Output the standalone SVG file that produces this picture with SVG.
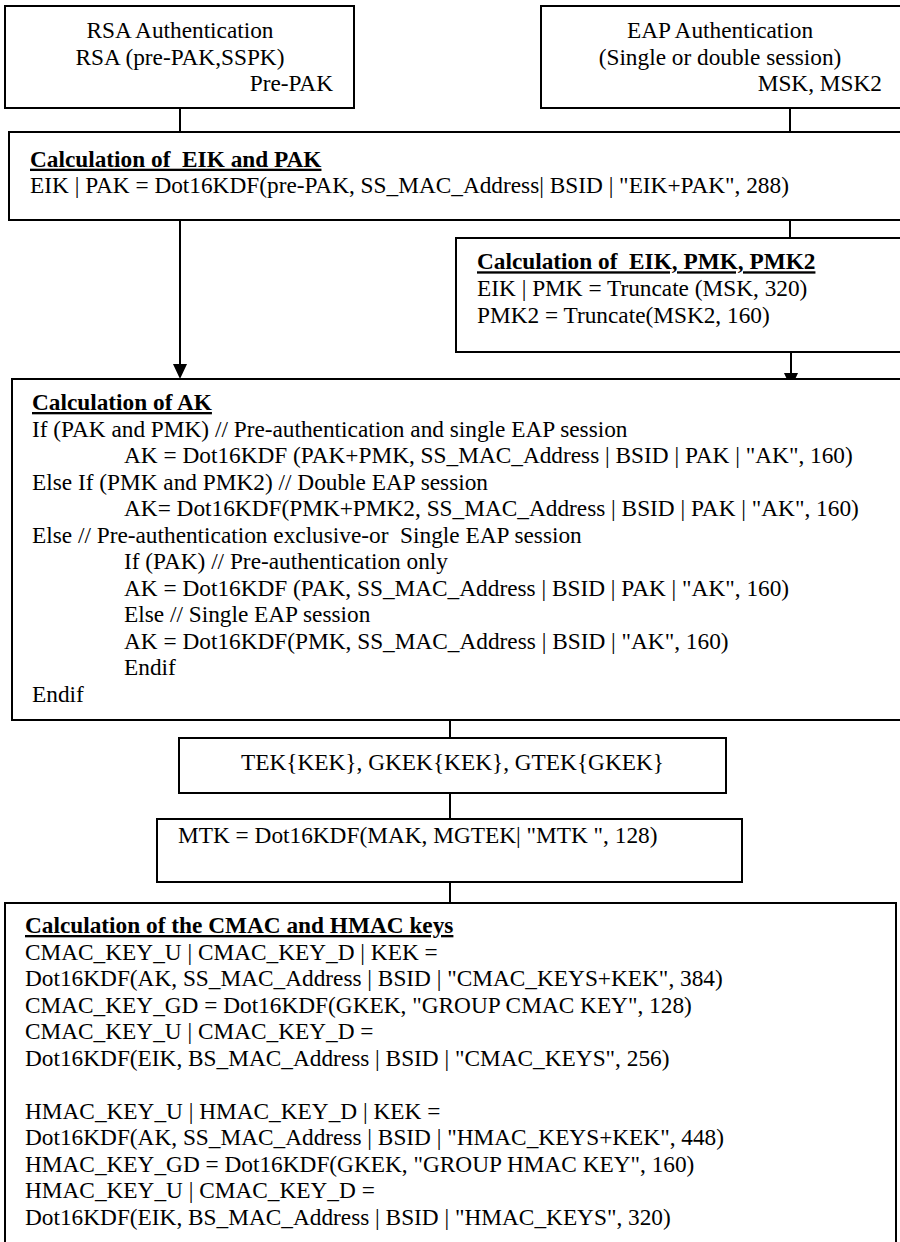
<svg xmlns="http://www.w3.org/2000/svg" width="900" height="1242" viewBox="0 0 900 1242">
<style>
text{font-family:"Liberation Serif","Times New Roman",serif;font-size:23.3px;fill:#000;white-space:pre}
.t{font-weight:bold;text-decoration:underline}
.c{text-anchor:middle}
.r{text-anchor:end}
.box{fill:#fff;stroke:#000;stroke-width:2}
.conn{stroke:#000;stroke-width:2;fill:none}
.head{fill:#000}
</style>
<rect width="900" height="1242" fill="#fff"/>
<g id="connectors">
<line class="conn" x1="180" y1="108" x2="180" y2="132"/>
<line class="conn" x1="790" y1="108" x2="790" y2="132"/>
<line class="conn" x1="790" y1="220" x2="790" y2="238"/>
<path class="conn" d="M180,220 L180,364"/>
<polygon class="head" points="173,364 187,364 180,379"/>
<path class="conn" d="M791,352 L791,373"/>
<polygon class="head" points="784,373 798,373 791,388"/>
<line class="conn" x1="450" y1="720" x2="450" y2="738"/>
<line class="conn" x1="450" y1="793" x2="450" y2="819"/>
<line class="conn" x1="450" y1="882" x2="450" y2="903"/>
</g>
<g id="rsa">
<rect class="box" x="5" y="6" width="349" height="102"/>
<text class="c" x="180" y="38.3">RSA Authentication</text>
<text class="c" x="180" y="64.8">RSA (pre-PAK,SSPK)</text>
<text class="r" x="333" y="91.3">Pre-PAK</text>
</g>
<g id="eap">
<rect class="box" x="541" y="6" width="369" height="102"/>
<text class="c" x="720" y="38.3">EAP Authentication</text>
<text class="c" x="720" y="64.8">(Single or double session)</text>
<text class="r" x="882" y="91.3">MSK, MSK2</text>
</g>
<g id="eik-pak">
<rect class="box" x="9" y="132" width="901" height="88"/>
<text class="t" x="30" y="166.7">Calculation of  EIK and PAK</text>
<text x="30" y="193.2">EIK | PAK = Dot16KDF(pre-PAK, SS_MAC_Address| BSID | "EIK+PAK", 288)</text>
</g>
<g id="eik-pmk">
<rect class="box" x="456" y="238" width="454" height="114"/>
<text class="t" x="477" y="269.3">Calculation of  EIK, PMK, PMK2</text>
<text x="477" y="296">EIK | PMK = Truncate (MSK, 320)</text>
<text x="477" y="322.6">PMK2 = Truncate(MSK2, 160)</text>
</g>
<g id="ak">
<rect class="box" x="12" y="379" width="898" height="341"/>
<text class="t" x="32" y="410">Calculation of AK</text>
<text x="32" y="436.5">If (PAK and PMK) // Pre-authentication and single EAP session</text>
<text x="124" y="463">AK = Dot16KDF (PAK+PMK, SS_MAC_Address | BSID | PAK | "AK", 160)</text>
<text x="32" y="489.5">Else If (PMK and PMK2) // Double EAP session</text>
<text x="124" y="516">AK= Dot16KDF(PMK+PMK2, SS_MAC_Address | BSID | PAK | "AK", 160)</text>
<text x="32" y="542.5">Else // Pre-authentication exclusive-or  Single EAP session</text>
<text x="124" y="569">If (PAK) // Pre-authentication only</text>
<text x="124" y="595.5">AK = Dot16KDF (PAK, SS_MAC_Address | BSID | PAK | "AK", 160)</text>
<text x="124" y="622">Else // Single EAP session</text>
<text x="124" y="648.5">AK = Dot16KDF(PMK, SS_MAC_Address | BSID | "AK", 160)</text>
<text x="124" y="675">Endif</text>
<text x="32" y="701.5">Endif</text>
</g>
<g id="tek">
<rect class="box" x="179" y="738" width="547" height="55"/>
<text class="c" x="452.5" y="770">TEK{KEK}, GKEK{KEK}, GTEK{GKEK}</text>
</g>
<g id="mtk">
<rect class="box" x="157" y="819" width="585" height="63"/>
<text x="178" y="843.3">MTK = Dot16KDF(MAK, MGTEK| "MTK ", 128)</text>
</g>
<g id="cmac-hmac">
<rect class="box" x="5" y="903" width="891" height="360"/>
<text class="t" x="25" y="933">Calculation of the CMAC and HMAC keys</text>
<text x="25" y="959.5">CMAC_KEY_U | CMAC_KEY_D | KEK =</text>
<text x="25" y="986">Dot16KDF(AK, SS_MAC_Address | BSID | "CMAC_KEYS+KEK", 384)</text>
<text x="25" y="1012.5">CMAC_KEY_GD = Dot16KDF(GKEK, "GROUP CMAC KEY", 128)</text>
<text x="25" y="1039">CMAC_KEY_U | CMAC_KEY_D =</text>
<text x="25" y="1065.5">Dot16KDF(EIK, BS_MAC_Address | BSID | "CMAC_KEYS", 256)</text>
<text x="25" y="1118.5">HMAC_KEY_U | HMAC_KEY_D | KEK =</text>
<text x="25" y="1145">Dot16KDF(AK, SS_MAC_Address | BSID | "HMAC_KEYS+KEK", 448)</text>
<text x="25" y="1171.5">HMAC_KEY_GD = Dot16KDF(GKEK, "GROUP HMAC KEY", 160)</text>
<text x="25" y="1198">HMAC_KEY_U | CMAC_KEY_D =</text>
<text x="25" y="1224.5">Dot16KDF(EIK, BS_MAC_Address | BSID | "HMAC_KEYS", 320)</text>
</g>
</svg>
